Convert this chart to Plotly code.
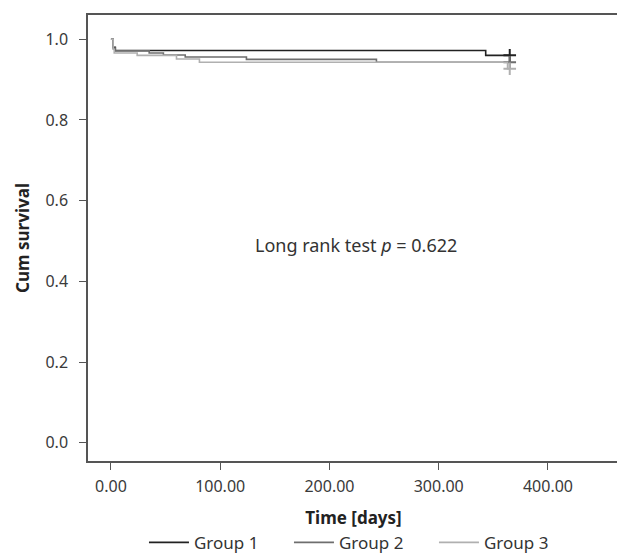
import plotly.graph_objects as go

# Kaplan-Meier step data (time in days, cumulative survival)
g1_time = [0, 2, 4, 343, 365]
g1_surv = [1.0, 0.980, 0.972, 0.960, 0.960]
g2_time = [0, 2, 4, 35, 48, 68, 124, 243, 365]
g2_surv = [1.0, 0.978, 0.971, 0.966, 0.961, 0.956, 0.950, 0.943, 0.943]
g3_time = [0, 2, 3, 24, 60, 81, 363, 365]
g3_surv = [1.0, 0.975, 0.966, 0.960, 0.951, 0.943, 0.927, 0.927]

groups = ["Group 1", "Group 2", "Group 3"]
colors = ["#222222", "#6e6e6e", "#b0b0b0"]
censor_time = 365

x_ticks = [0, 100, 200, 300, 400]
y_ticks = [0.0, 0.2, 0.4, 0.6, 0.8, 1.0]

FONT = "Noto Sans"

fig = go.Figure()
series = [(g1_time, g1_surv), (g2_time, g2_surv), (g3_time, g3_surv)]
for name, (t, s), c in zip(groups, series, colors):
    fig.add_trace(go.Scatter(x=t, y=s, mode="lines", line=dict(shape="hv", color=c, width=1.6),
                             name=name, legendgroup=name))
    fig.add_trace(go.Scatter(x=[censor_time], y=[s[-1]], mode="markers",
                             marker=dict(symbol="cross-thin", size=9, line=dict(color=c, width=2)),
                             showlegend=False, legendgroup=name))

fig.add_annotation(x=224, y=0.489, xref="x", yref="y", showarrow=False,
                   text="Long rank test <i>p</i> = 0.622",
                   font=dict(family=FONT, size=18, color="#333333"))

axis_common = dict(showline=True, linecolor="#555555", linewidth=1.5, mirror=True,
                   ticks="outside", ticklen=7, tickcolor="#555555", showgrid=False,
                   zeroline=False, tickfont=dict(family=FONT, size=16, color="#3a3a3a"))

fig.update_layout(
    width=625, height=558,
    margin=dict(l=80, r=14, t=5, b=89),
    plot_bgcolor="white", paper_bgcolor="white",
    xaxis=dict(range=[-21, 465], tickvals=x_ticks, tickformat=".2f", ticklabelstandoff=3,
               title=dict(text="<b>Time [days]</b>", font=dict(family=FONT, size=17, color="#222222"), standoff=16),
               **axis_common),
    yaxis=dict(range=[-0.045, 1.06], tickvals=y_ticks, tickformat=".1f", ticklabelstandoff=8,
               title=dict(text="<b>Cum survival</b>", font=dict(family=FONT, size=17, color="#222222"), standoff=12),
               **axis_common),
    legend=dict(orientation="h", x=0.515, xanchor="center", y=-0.143, yanchor="top",
                font=dict(family=FONT, size=17, color="#333333"), itemwidth=40,
                entrywidth=90, entrywidthmode="pixels"),
    showlegend=True,
)

fig.write_html("out.html")
